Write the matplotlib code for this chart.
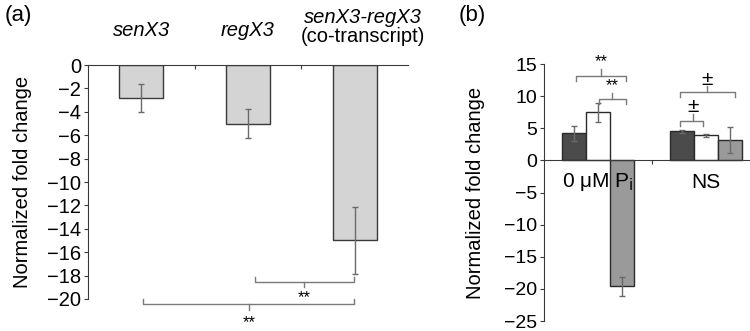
import matplotlib

matplotlib.use("Agg")
import matplotlib.pyplot as plt
import numpy as np

plt.rcParams["font.family"] = ["Liberation Sans", "DejaVu Sans"]
plt.rcParams["font.size"] = 12

# panel (a): qRT-PCR fold change
A_GENES = ["senX3", "regX3", "senX3-regX3"]
A_VALUES = [-2.8, -5.0, -15.0]
A_ERRORS = [1.2, 1.2, 2.9]
A_YTICKS = list(range(0, -21, -2))

# panel (b): three series in two conditions
B_GROUPS = ["0 \u03bcM P$_\\mathrm{i}$", "NS"]
B_DARK = [4.2, 4.5]
B_DARK_ERR = [1.2, 0.3]
B_WHITE = [7.5, 3.9]
B_WHITE_ERR = [1.5, 0.2]
B_GRAY = [-19.6, 3.2]
B_GRAY_ERR = [1.5, 2.0]
B_YTICKS = list(range(15, -26, -5))

ERR_COLOR = "#6a6a6a"
BRACKET_COLOR = "#7a7a7a"
AXIS_COLOR = "#3a3a3a"


def bracket(ax, x0, x1, y, tick, label, label_y, label_x=None, fs=12):
    # tick > 0 -> ends go up and centre tick down (bracket below), and vice versa
    xc = (x0 + x1) / 2 if label_x is None else label_x
    ax.plot([x0, x0, x1, x1], [y + tick, y, y, y + tick], color=BRACKET_COLOR,
            lw=1.0, clip_on=False)
    ax.plot([xc, xc], [y, y - tick * 1.2], color=BRACKET_COLOR, lw=1.0, clip_on=False)
    ax.text(xc, label_y, label, ha="center", va="center", fontsize=fs, clip_on=False)


fig = plt.figure(figsize=(7.5, 3.31), dpi=100)

# ---- panel (a)
ax = fig.add_axes([0.1173, 0.0967, 0.4267, 0.7069])
xa = np.arange(len(A_VALUES)) + 0.5
ax.bar(xa, A_VALUES, width=0.41, color="#d4d4d4", edgecolor=AXIS_COLOR, linewidth=1.0)
ax.errorbar(xa, A_VALUES, yerr=A_ERRORS, fmt="none", ecolor=ERR_COLOR,
            elinewidth=1.0, capsize=2.5, capthick=1.0)
ax.set_xlim(0, 3)
ax.set_ylim(-20, 0)
ax.set_yticks(A_YTICKS)
ax.spines["right"].set_visible(False)
ax.spines["bottom"].set_visible(False)
ax.spines["top"].set_color(AXIS_COLOR)
ax.spines["left"].set_color(AXIS_COLOR)
ax.xaxis.set_ticks_position("top")
ax.set_xticks([1, 2])
ax.tick_params(axis="x", direction="in", length=3, labeltop=False, color=AXIS_COLOR)
ax.tick_params(axis="y", direction="out", length=3, labelsize=14.5, color=AXIS_COLOR, pad=2)
ax.set_ylabel("Normalized fold change", fontsize=14.5)
ax.yaxis.set_label_coords(-0.175, 0.5)

ax.text(xa[0], 2.95, A_GENES[0], style="italic", ha="center", va="center", fontsize=14.5)
ax.text(xa[1], 2.95, A_GENES[1], style="italic", ha="center", va="center", fontsize=14.5)
ax.text(xa[2] + 0.08, 4.1, A_GENES[2], style="italic", ha="center", va="center",
        fontsize=14.5)
ax.text(xa[2] + 0.08, 2.4, "(co-transcript)", ha="center", va="center", fontsize=14.5)

bracket(ax, 1.565, 2.49, -18.52, 0.4, "**", -19.85)
bracket(ax, 0.515, 2.49, -20.43, 0.4, "**", -22.0, label_x=1.51)
fig.text(0.006, 0.952, "(a)", fontsize=16, va="center")

# ---- panel (b)
bx = fig.add_axes([0.7253, 0.030, 0.2747, 0.7766])
xb = np.arange(len(B_GROUPS)) + 0.5
w = 0.22
bx.bar(xb - w, B_DARK, width=w, color="#4b4b4b", edgecolor="#2a2a2a", linewidth=1.0)
bx.bar(xb, B_WHITE, width=w, color="white", edgecolor="#2a2a2a", linewidth=1.0)
bx.bar(xb + w, B_GRAY, width=w, color="#9a9a9a", edgecolor="#2a2a2a", linewidth=1.0)
for off, vals, errs in [(-w, B_DARK, B_DARK_ERR), (0, B_WHITE, B_WHITE_ERR),
                        (w, B_GRAY, B_GRAY_ERR)]:
    bx.errorbar(xb + off, vals, yerr=errs, fmt="none", ecolor=ERR_COLOR,
                elinewidth=1.0, capsize=2.5, capthick=1.0)
bx.set_xlim(0, 1.907)
bx.set_ylim(-25, 15)
bx.set_yticks(B_YTICKS)
bx.spines["right"].set_visible(False)
bx.spines["top"].set_visible(False)
bx.spines["bottom"].set_position(("data", 0))
bx.spines["bottom"].set_color(AXIS_COLOR)
bx.spines["left"].set_color(AXIS_COLOR)
bx.set_xticks([1])
bx.tick_params(axis="x", direction="out", length=3, labelbottom=False, color=AXIS_COLOR)
bx.tick_params(axis="y", direction="out", length=3, labelsize=14, color=AXIS_COLOR, pad=2)
bx.set_ylabel("Normalized fold change", fontsize=14.5)
bx.yaxis.set_label_coords(-0.286, 0.5)
for xg, name in zip(xb, B_GROUPS):
    bx.text(xg, -3.4, name, ha="center", va="center", fontsize=15)

bracket(bx, 0.296, 0.759, 13.2, -0.8, "**", 15.3, label_x=0.528)
bracket(bx, 0.509, 0.759, 9.6, -0.8, "**", 11.7, label_x=0.63)
bracket(bx, 1.259, 1.472, 6.2, -0.8, "\u00b1", 8.4, label_x=1.38, fs=15)
bracket(bx, 1.259, 1.769, 10.6, -0.8, "\u00b1", 12.6, label_x=1.509, fs=15)
fig.text(0.612, 0.952, "(b)", fontsize=16, va="center")

fig.savefig("out.png", dpi=100)
